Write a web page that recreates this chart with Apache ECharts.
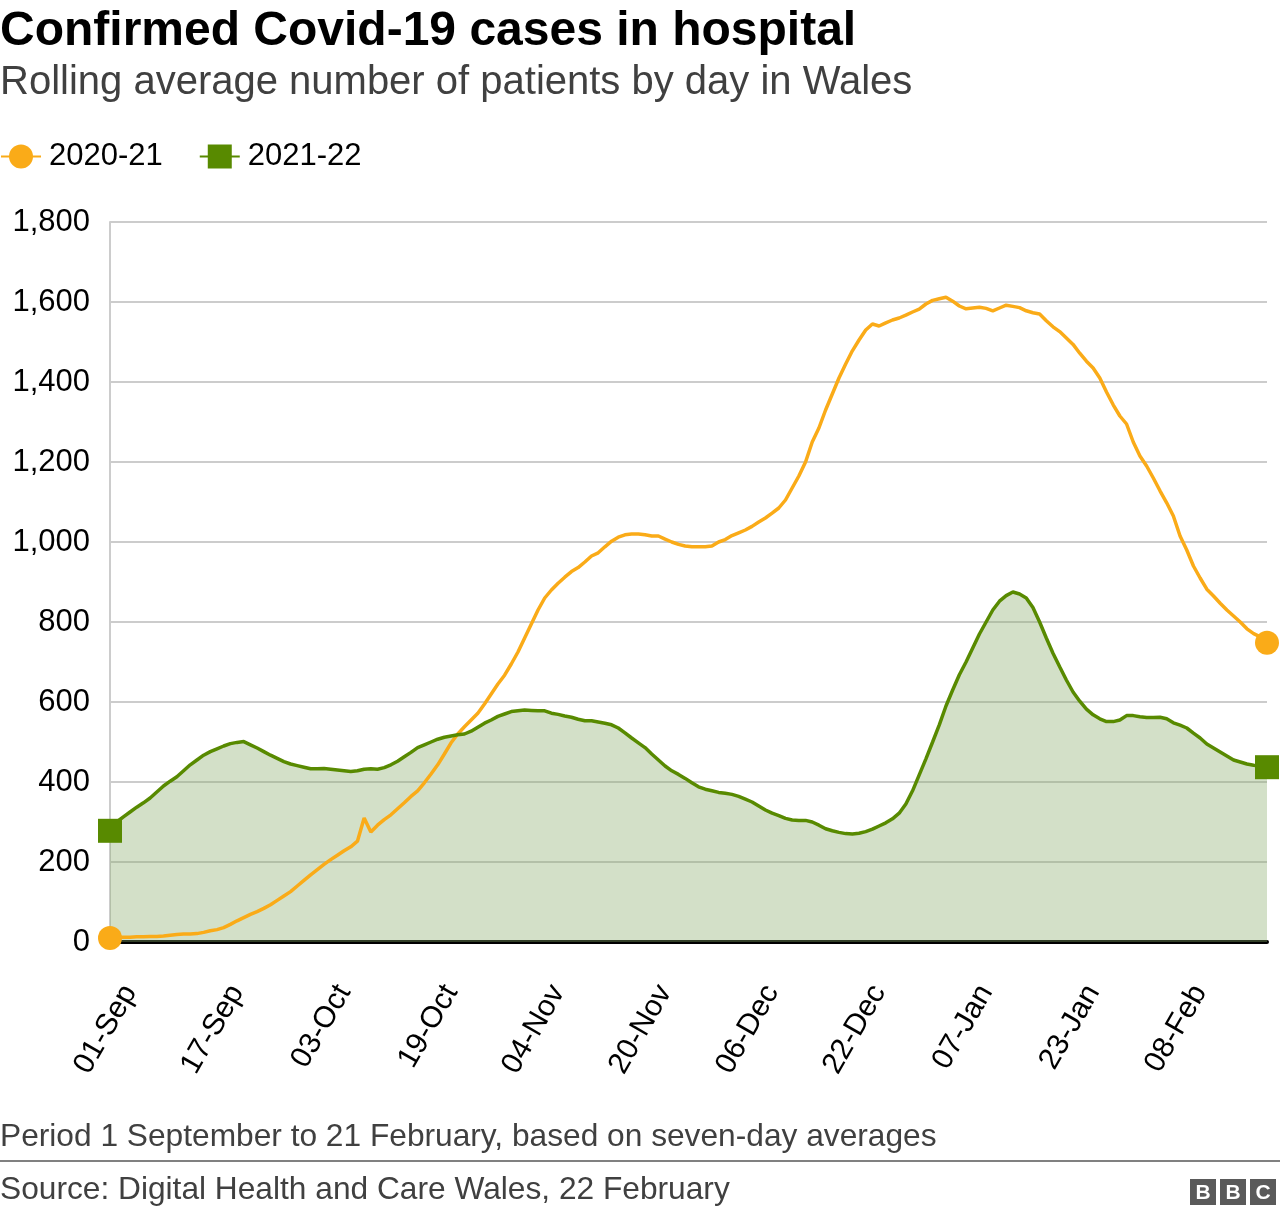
<!DOCTYPE html>
<html><head><meta charset="utf-8">
<script src="https://cdn.jsdelivr.net/npm/echarts@6/dist/echarts.min.js"></script>
<style>html,body{margin:0;padding:0;background:#fff}#c{width:1280px;height:1216px}</style>
</head><body><div id="c"></div>
<script>
const monthNames = ['Sep','Oct','Nov','Dec','Jan','Feb'];
const monthDays = [30,31,30,31,31,21];
const categories = [];
monthNames.forEach((m,k)=>{for(let d=1; d<=monthDays[k]; d++) categories.push(String(d).padStart(2,'0')+'-'+m);});

const seriesNames = ['2020-21','2021-22'];
const cases2020 = [10,12,12,12,13,13,14,14,15,17,
19,20,20,21,24,28,31,36,44,53,
61,69,76,84,93,104,115,126,140,154,
168,181,194,206,217,228,238,252,310,275,
292,306,318,333,348,364,378,398,420,443,
470,498,520,538,555,572,595,620,645,667,
695,725,760,795,830,860,880,897,912,926,
936,950,965,973,988,1002,1012,1018,1020,1020,
1018,1015,1015,1007,1000,994,990,988,988,988,
990,1000,1006,1016,1023,1030,1039,1050,1060,1072,
1085,1105,1135,1165,1200,1250,1285,1330,1370,1410,
1445,1478,1505,1530,1545,1540,1548,1555,1560,1567,
1575,1582,1595,1604,1608,1612,1602,1590,1583,1585,
1587,1584,1578,1585,1592,1589,1586,1578,1573,1570,
1553,1538,1526,1510,1494,1472,1452,1435,1410,1375,
1343,1315,1295,1250,1215,1190,1160,1128,1098,1065,
1015,980,940,910,882,865,847,830,815,800,
783,771,763,748];
const cases2021 = [278,300,313,325,337,348,360,375,390,402,
413,428,443,455,467,476,483,490,496,499,
501,493,485,476,467,459,451,445,441,437,
433,433,434,432,430,428,426,428,432,433,
432,436,443,452,463,474,486,493,500,507,
512,515,518,520,527,537,547,555,564,570,
576,578,580,579,578,578,572,569,565,562,
557,553,553,550,547,543,535,523,510,498,
486,470,455,440,428,419,409,398,388,382,
378,374,372,369,364,357,350,340,330,322,
316,309,305,304,304,300,292,283,278,274,
271,270,272,276,282,290,298,308,322,345,
378,418,458,500,543,590,630,668,700,735,
770,800,830,852,866,875,870,860,836,800,
760,722,688,655,625,602,582,568,558,551,
551,555,566,566,563,561,561,562,558,548,
542,535,522,510,495,485,475,465,455,450,
445,442,440,437];

const ORANGE = '#FAAB18';
const GREEN = '#588A00';
const FONT = '"Liberation Sans", Arial, Helvetica, sans-serif';
const last = categories.length - 1;

function endMarks(arr){
  return [{coord:[categories[0], arr[0]]},{coord:[categories[last], arr[last]]}];
}

const chart = echarts.init(document.getElementById('c'), null, {renderer:'canvas'});
chart.setOption({
  animation:false,
  backgroundColor:'#fff',
  textStyle:{fontFamily:FONT},
  grid:{left:110, right:13, top:222, bottom:274, containLabel:false},
  legend:{
    data:seriesNames, left:0, top:141, padding:0, itemWidth:40, itemHeight:30, itemGap:36,
    selectedMode:false,
    textStyle:{fontSize:31, color:'#000', fontFamily:FONT, padding:[0,0,0,3]}
  },
  xAxis:{
    type:'category', data:categories, boundaryGap:false,
    axisLine:{lineStyle:{color:'#000', width:4}},
    axisTick:{show:false},
    splitLine:{show:false},
    axisLabel:{interval:15, rotate:60, fontSize:30, color:'#000', margin:34,
      align:'right', verticalAlign:'top', lineHeight:46, fontFamily:FONT}
  },
  yAxis:{
    type:'value', min:0, max:1800, interval:200,
    axisLine:{show:true, lineStyle:{color:'#cccccc', width:2}},
    axisTick:{show:false},
    splitLine:{lineStyle:{color:'#cccccc', width:2}},
    axisLabel:{fontSize:31, color:'#000', margin:20, fontFamily:FONT,
      formatter:v=>v.toLocaleString('en-GB')}
  },
  series:[
    {name:seriesNames[0], type:'line', data:cases2020, symbol:'circle', showSymbol:false,
      lineStyle:{color:ORANGE, width:3.5}, itemStyle:{color:ORANGE}, z:2,
      markPoint:{symbol:'circle', symbolSize:24, data:endMarks(cases2020),
        label:{show:false}, itemStyle:{color:ORANGE}, z:6, silent:true}},
    {name:'fill', type:'line', data:cases2021, symbol:'none', showSymbol:false,
      lineStyle:{width:0, opacity:0}, areaStyle:{color:'rgba(136,171,106,0.37)', opacity:1, origin:'start'}, z:2},
    {name:seriesNames[1], type:'line', data:cases2021, symbol:'rect', showSymbol:false,
      lineStyle:{color:GREEN, width:3.5}, itemStyle:{color:GREEN}, z:2,
      markPoint:{symbol:'rect', symbolSize:24, data:endMarks(cases2021),
        label:{show:false}, itemStyle:{color:GREEN}, z:6, silent:true}}
  ],
  graphic:[
    {type:'text', x:0, y:32, style:{text:'Confirmed Covid-19 cases in hospital', font:'bold 48px '+FONT, fill:'#000', verticalAlign:'middle', textVerticalAlign:'middle'}},
    {type:'text', x:0, y:83, style:{text:'Rolling average number of patients by day in Wales', font:'40px '+FONT, fill:'#404040', verticalAlign:'middle', textVerticalAlign:'middle'}},
    {type:'text', x:0, y:1137, style:{text:'Period 1 September to 21 February, based on seven-day averages', font:'31.7px '+FONT, fill:'#404040', verticalAlign:'middle', textVerticalAlign:'middle'}},
    {type:'line', shape:{x1:0, y1:1161, x2:1280, y2:1161}, style:{stroke:'#808080', lineWidth:2}},
    {type:'text', x:0, y:1190, style:{text:'Source: Digital Health and Care Wales, 22 February', font:'31.7px '+FONT, fill:'#404040', verticalAlign:'middle', textVerticalAlign:'middle'}},
    {type:'group', x:1190, y:1179, children:[
      {type:'rect', shape:{x:0,y:0,width:26,height:26}, style:{fill:'#5a5a5a'}},
      {type:'rect', shape:{x:30,y:0,width:26,height:26}, style:{fill:'#5a5a5a'}},
      {type:'rect', shape:{x:60,y:0,width:26,height:26}, style:{fill:'#5a5a5a'}},
      {type:'text', x:13, y:14, style:{text:'B', font:'bold 21px '+FONT, fill:'#fff', align:'center', verticalAlign:'middle', textAlign:'center', textVerticalAlign:'middle'}},
      {type:'text', x:43, y:14, style:{text:'B', font:'bold 21px '+FONT, fill:'#fff', align:'center', verticalAlign:'middle', textAlign:'center', textVerticalAlign:'middle'}},
      {type:'text', x:73, y:14, style:{text:'C', font:'bold 21px '+FONT, fill:'#fff', align:'center', verticalAlign:'middle', textAlign:'center', textVerticalAlign:'middle'}}
    ]}
  ]
});
</script></body></html>
